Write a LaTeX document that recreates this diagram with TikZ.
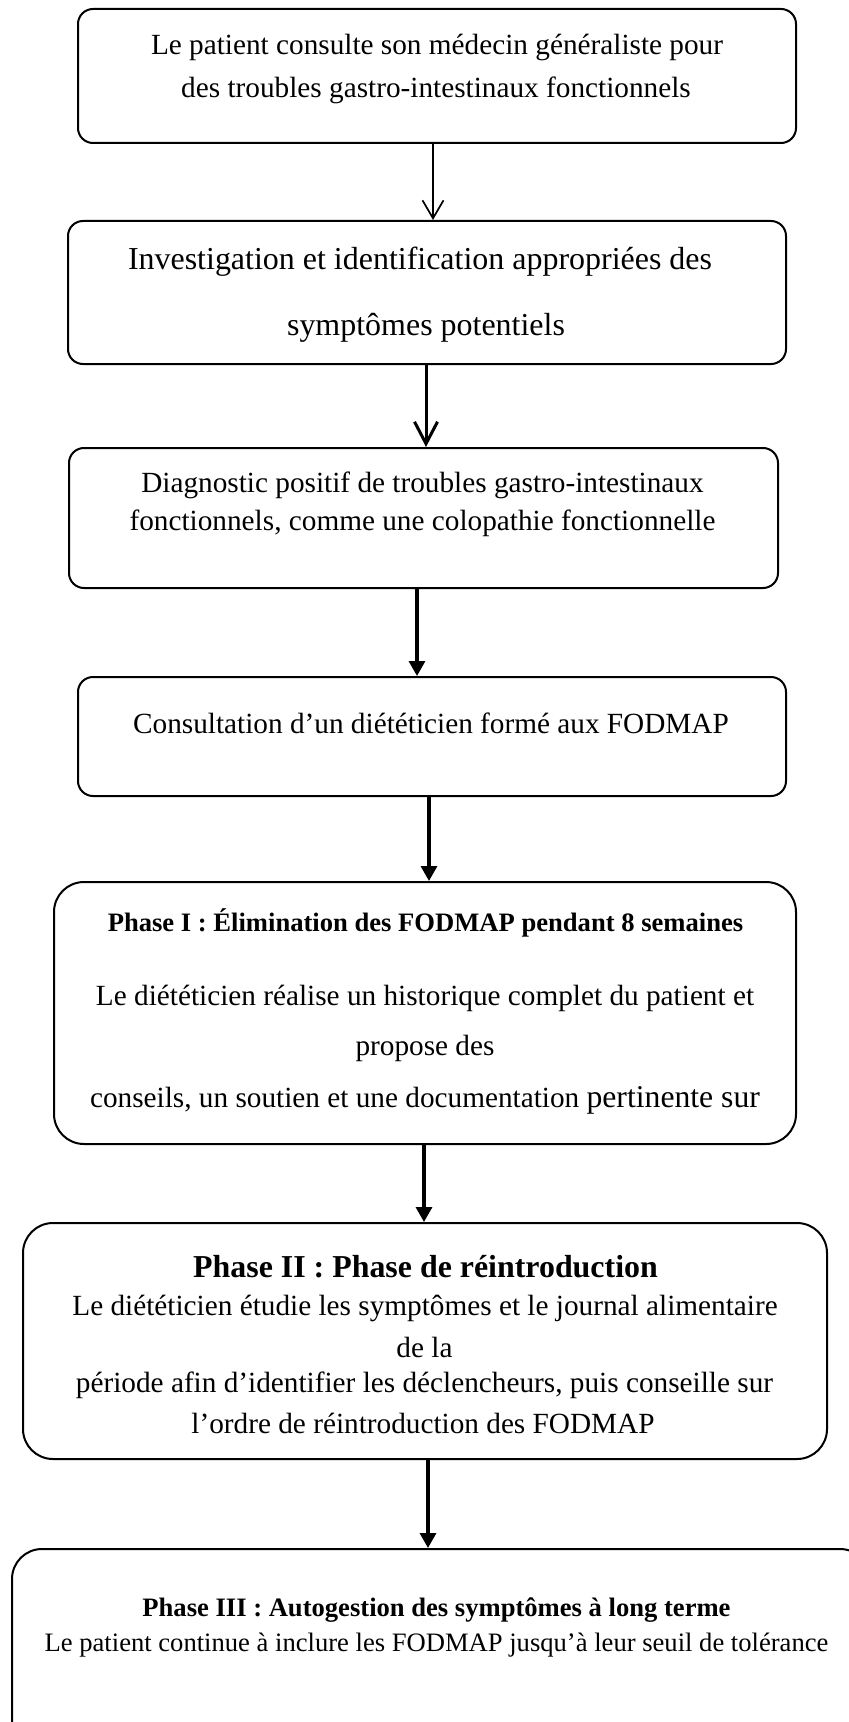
\documentclass[tikz,border=0pt]{standalone}
\usepackage{fontspec}
\setmainfont{Liberation Serif}
\usetikzlibrary{arrows.meta}
\begin{document}
\begin{tikzpicture}[x=0.5pt,y=-0.5pt,
  box/.style={draw, line width=1pt, inner sep=0pt, rectangle, rounded corners=7.5pt},
  bigbox/.style={box, rounded corners=15pt},
  txt/.style={inner sep=0pt, anchor=center, font=\fontsize{14.63}{17}\selectfont},
  txtl/.style={inner sep=0pt, anchor=center, font=\fontsize{15.98}{19}\selectfont},
  ttl/.style={inner sep=0pt, anchor=center, font=\fontsize{13.3}{16}\selectfont\bfseries},
  ttlb/.style={inner sep=0pt, anchor=center, font=\fontsize{15.95}{19}\selectfont\bfseries},
  thinarrow/.style={line width=0.85pt, -{Straight Barb[length=9pt,width=10.5pt]}},
  veearrow/.style={line width=1.5pt, -{Straight Barb[length=11pt,width=11.5pt]}},
  fillarrow/.style={line width=1.65pt, -{Triangle[length=7.5pt,width=8pt]}}
]
\fill[white] (0,0) rectangle (849,1722);
\useasboundingbox (0,0) rectangle (849,1722);
\clip (0,0) rectangle (849,1722);

% boxes
\node[box, minimum width=359pt, minimum height=67pt] (b1) at (437,76) {};
\node[box, minimum width=359pt, minimum height=71.5pt] (b2) at (427,292.5) {};
\node[box, minimum width=354.5pt, minimum height=70pt] (b3) at (423.5,518) {};
\node[box, minimum width=354pt, minimum height=59.5pt] (b4) at (432,736.5) {};
\node[bigbox, minimum width=371pt, minimum height=131pt] (b5) at (425,1013) {};
\node[bigbox, minimum width=402pt, minimum height=118pt] (b6) at (425,1341) {};
\node[bigbox, minimum width=429pt, minimum height=105.5pt] (b7) at (441,1654.5) {};

% texts
\node[txt] (t1a) at (437,47) {Le patient consulte son médecin généraliste pour};
\node[txt] (t1b) at (436,90) {des troubles gastro-intestinaux fonctionnels};

\node[txtl] (t2a) at (420,262) {Investigation et identification appropriées des};
\node[txtl] (t2b) at (426,328) {symptômes potentiels};

\node[txt] (t3a) at (422.5,485) {Diagnostic positif de troubles gastro-intestinaux};
\node[txt] (t3b) at (422.5,523) {fonctionnels, comme une colopathie fonctionnelle};

\node[txt] (t4) at (431,723) {Consultation d’un diététicien formé aux FODMAP};

\node[ttl] (t5a) at (425.5,923) {Phase I : Élimination des FODMAP pendant 8 semaines};
\node[txt] (t5b) at (425,998) {Le diététicien réalise un historique complet du patient et};
\node[txt] (t5c) at (425,1048) {propose des};
\node[txt] (t5d) at (425,1100) {conseils, un soutien et une documentation {\fontsize{15.85}{19}\selectfont pertinente sur}};

\node[ttlb] (t6a) at (425.5,1267) {Phase II : Phase de réintroduction};
\node[txt] (t6b) at (425,1308) {Le diététicien étudie les symptômes et le journal alimentaire};
\node[txt] (t6c) at (424.5,1347) {de la};
\node[txt] (t6d) at (424.5,1385) {période afin d’identifier les déclencheurs, puis conseille sur};
\node[txt] (t6e) at (423,1423) {l’ordre de réintroduction des FODMAP};

\node[ttl] (t7a) at (436.5,1610) {Phase III : Autogestion des symptômes à long terme};
\node[inner sep=0pt, anchor=center, font=\fontsize{13.3}{16}\selectfont] (t7b) at (436.5,1645) {Le patient continue à inclure les FODMAP jusqu’à leur seuil de tolérance};

% arrow x positions
\coordinate (x1) at (433,0);
\coordinate (x2) at (426,0);
\coordinate (x3) at (417,0);
\coordinate (x4) at (429,0);
\coordinate (x5) at (424,0);
\coordinate (x6) at (428,0);

\draw[thinarrow] (b1.south -| x1) -- (b2.north -| x1);
\draw[veearrow] (b2.south -| x2) -- (b3.north -| x2);
\draw[fillarrow] (b3.south -| x3) -- (b4.north -| x3);
\draw[fillarrow] (b4.south -| x4) -- (b5.north -| x4);
\draw[fillarrow] (b5.south -| x5) -- (b6.north -| x5);
\draw[fillarrow] (b6.south -| x6) -- (b7.north -| x6);
\end{tikzpicture}
\end{document}
